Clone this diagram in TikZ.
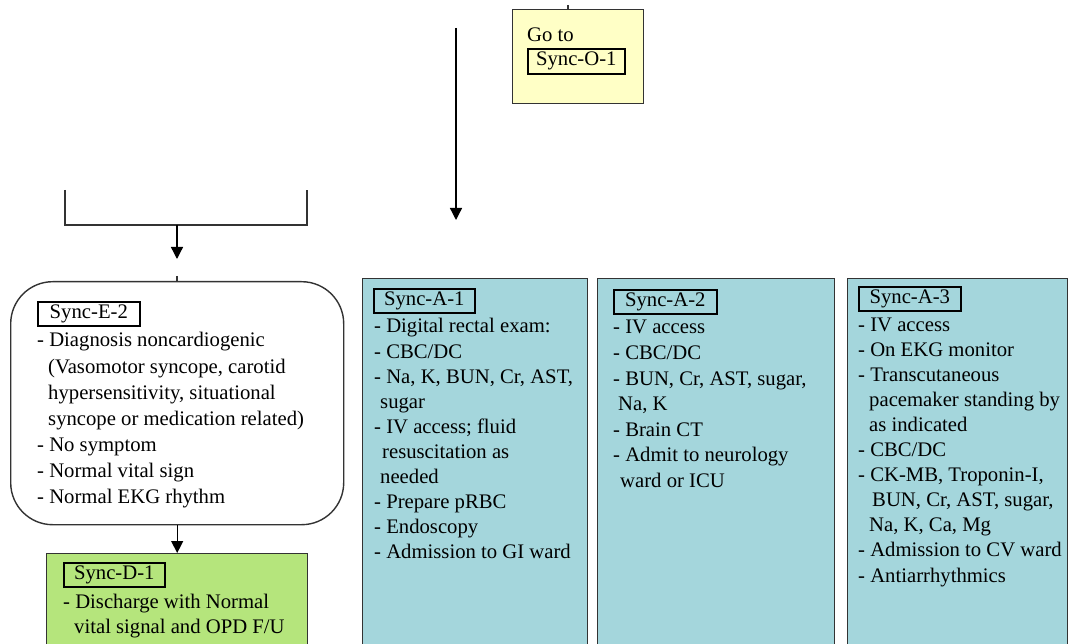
\documentclass[tikz,border=0pt]{standalone}
\usepackage{fontspec}
\setmainfont{Liberation Serif}
\usetikzlibrary{arrows.meta}
\definecolor{yfill}{HTML}{FFFFC6}
\definecolor{gfill}{HTML}{B5E57C}
\definecolor{bfill}{HTML}{A4D6DC}
\definecolor{edge}{HTML}{333333}
\newcommand{\fs}{\fontsize{20.7}{25}\selectfont}
\tikzset{
  txt/.style={font=\fs, inner sep=0pt, anchor=base west, text=black},
  lbl/.style={draw=black, line width=1.6pt, inner sep=0pt, font=\fs, anchor=north west},
  bluebox/.style={draw=edge, line width=1.4pt, fill=bfill, anchor=north west, inner sep=0pt},
  arr/.style={-{Triangle[width=12pt,length=12pt]}, line width=1.3pt, draw=black},
  plain/.style={line width=1.2pt, draw=black!80},
}
\begin{document}
\begin{tikzpicture}[x=1pt,y=-1pt]
\useasboundingbox (0,0) rectangle (1071,644);
\clip (0,0) rectangle (1071,644);
% yellow box
\node[draw=edge, line width=1.4pt, fill=yfill, anchor=north west, inner sep=0pt,
      minimum width=131pt, minimum height=94pt] (Y) at (512,9) {};
\node[txt] (goto) at (527,42) {Go to};
\node[lbl, minimum width=97pt, minimum height=25pt] (lO) at (527,48) {Sync-O-1};
\coordinate (ytick) at (568,5);
\coordinate (ytickb) at (568,9);
\draw[plain] (ytick) -- (ytickb);
% long vertical arrow
\coordinate (vtop) at (456,28);
\coordinate (vbot) at (456,220);
\draw[arr] (vtop) -- (vbot);
% bracket
\coordinate (bl) at (65,190);
\coordinate (br) at (307,190);
\coordinate (blc) at (65,225);
\coordinate (brc) at (307,225);
\coordinate (bj) at (177,225);
\coordinate (bt) at (177,259);
\draw[plain] (bl) -- (blc) -- (brc) -- (br);
\draw[arr] (bj) -- (bt);
% rounded box E-2
\node[draw=edge, line width=1.4pt, fill=white, rounded corners=42pt, anchor=north west,
      inner sep=0pt, minimum width=333pt, minimum height=243pt] (E2) at (10,281) {};
\coordinate (etick) at (177,276);
\draw[plain] (etick) -- (E2.north -| etick);
\node[lbl, minimum width=102pt, minimum height=24pt] (lE) at (37,301) {Sync-E-2};
\foreach \dx/\t [count=\i] in {0/{- Diagnosis noncardiogenic},
    11/{(Vasomotor syncope, carotid},
    11/{hypersensitivity, situational},
    11/{syncope or medication related)},
    0/{- No symptom},
    0/{- Normal vital sign},
    0/{- Normal EKG rhythm}}
  \node[txt] (e\i) at ({37+\dx},{347+26*(\i-1)}) {\t};
% green box D-1
\node[draw=edge, line width=1.4pt, fill=gfill, anchor=north west, inner sep=0pt,
      minimum width=261pt, minimum height=110pt] (D1) at (46,553) {};
\draw[arr] (E2.south -| D1.north) -- (D1.north);
\node[lbl, minimum width=101pt, minimum height=24pt] (lD) at (63,562) {Sync-D-1};
\node[txt] (d1) at (63,608) {- Discharge with Normal};
\node[txt] (d2) at (74,633) {vital signal and OPD F/U};
% blue boxes
\node[bluebox, minimum width=225pt, minimum height=390pt] (A1) at (362,278) {};
\node[bluebox, minimum width=237pt, minimum height=390pt] (A2) at (597,278) {};
\node[bluebox, minimum width=220pt, minimum height=390pt] (A3) at (847,278) {};
\node[lbl, minimum width=101pt, minimum height=24pt] (lA1) at (373,288) {Sync-A-1};
\node[lbl, minimum width=103pt, minimum height=24pt] (lA2) at (613,289) {Sync-A-2};
\node[lbl, minimum width=102pt, minimum height=24pt] (lA3) at (858,286) {Sync-A-3};
\foreach \dx/\t [count=\i] in {0/{- Digital rectal exam:},
    0/{- CBC/DC},
    0/{- Na, K, BUN, Cr, AST,},
    6/{sugar},
    0/{- IV access; fluid},
    8/{resuscitation as},
    6/{needed},
    0/{- Prepare pRBC},
    0/{- Endoscopy},
    0/{- Admission to GI ward}}
  \node[txt] (a1-\i) at ({374+\dx},{333+25*(\i-1)}) {\t};
\foreach \dx/\t [count=\i] in {0/{- IV access},
    0/{- CBC/DC},
    0/{- BUN, Cr, AST, sugar,},
    5/{Na, K},
    0/{- Brain CT},
    0/{- Admit to neurology},
    7/{ward or ICU}}
  \node[txt] (a2-\i) at ({613+\dx},{334+25.5*(\i-1)}) {\t};
\foreach \dx/\t [count=\i] in {0/{- IV access},
    0/{- On EKG monitor},
    0/{- Transcutaneous},
    11/{pacemaker standing by},
    11/{as indicated},
    0/{- CBC/DC},
    0/{- CK-MB, Troponin-I,},
    14/{BUN, Cr, AST, sugar,},
    11/{Na, K, Ca, Mg},
    0/{- Admission to CV ward},
    0/{- Antiarrhythmics}}
  \node[txt] (a3-\i) at ({858+\dx},{331+25.1*(\i-1)}) {\t};
\end{tikzpicture}
\end{document}
